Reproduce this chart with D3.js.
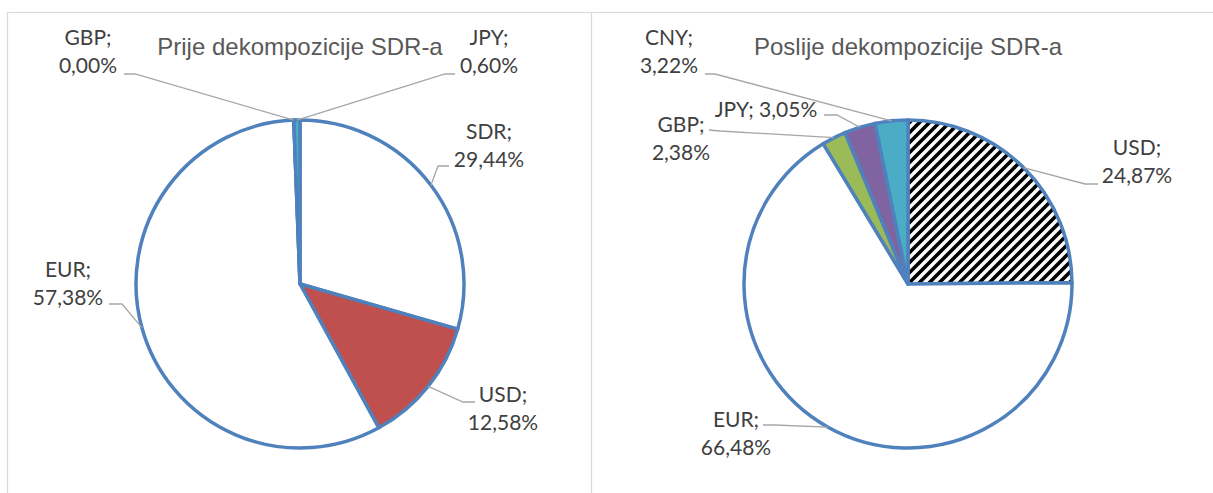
<!DOCTYPE html>
<html>
<head>
<meta charset="utf-8">
<script src="https://cdn.jsdelivr.net/npm/d3@7"></script>
<style>
  html, body { margin: 0; padding: 0; background: #fff; }
  #chart { width: 1213px; height: 493px; }
</style>
</head>
<body>
<div id="chart"></div>
<script>
// data (shares in %)
const chartTitles = ["Prije dekompozicije SDR-a", "Poslije dekompozicije SDR-a"];
const leftCurrencies = ["SDR", "USD", "EUR", "GBP", "JPY"];
const leftShares = [29.44, 12.58, 57.38, 0.00, 0.60];
const rightCurrencies = ["USD", "EUR", "GBP", "JPY", "CNY"];
const rightShares = [24.87, 66.48, 2.38, 3.05, 3.22];

const width = 1213, height = 493;
const radius = 164;

const svg = d3.select("#chart").append("svg")
    .attr("width", width)
    .attr("height", height)
    .attr("viewBox", `0 0 ${width} ${height}`);

// hatch for the USD slice after decomposition
const defs = svg.append("defs");
defs.append("pattern")
    .attr("id", "hatch")
    .attr("patternUnits", "userSpaceOnUse")
    .attr("width", 10)
    .attr("height", 10)
    .call(p => {
        p.append("rect").attr("width", 10).attr("height", 10).attr("fill", "#fff");
        p.append("path")
            .attr("d", "M-3,3 l6,-6 M0,10 l10,-10 M7,13 l6,-6")
            .attr("stroke", "#000")
            .attr("stroke-width", 3.6);
    });

// panel frames
svg.append("path")
    .attr("d", `M7.5,${height} V12.5 H${width} M591.5,12.5 V${height}`)
    .attr("fill", "none")
    .attr("stroke", "#d9d9d9")
    .attr("stroke-width", 1.2);

const locale = d3.formatLocale({ decimal: ",", thousands: ".", grouping: [3], currency: ["", ""] });
const fmt = v => locale.format(".2f")(v) + "%";

const pie = d3.pie().sort(null).value(d => d.value);
const arc = d3.arc().innerRadius(0).outerRadius(radius);
const edge = d3.arc().innerRadius(radius).outerRadius(radius);

// label placement: text centre x, first baseline, leader start + elbow
const charts = [
    {
        title: chartTitles[0], cx: 300, cy: 284,
        names: leftCurrencies, values: leftShares,
        fills: { SDR: "#fff", USD: "#c0504d", EUR: "#fff", GBP: "#9bbb59", JPY: "#4bacc6" },
        labels: {
            GBP: { x: 88, y: 45, lead: [[124, 74], [135, 74]] },
            JPY: { x: 489, y: 45, lead: [[455, 74], [445, 74]] },
            SDR: { x: 489, y: 139, lead: [[449, 166], [438, 166]] },
            USD: { x: 503, y: 402, lead: [[475, 402], [463, 402]] },
            EUR: { x: 68, y: 277, lead: [[109, 304], [122, 304]] }
        }
    },
    {
        title: chartTitles[1], cx: 908, cy: 284,
        names: rightCurrencies, values: rightShares,
        fills: { USD: "url(#hatch)", EUR: "#fff", GBP: "#9bbb59", JPY: "#8064a2", CNY: "#4bacc6" },
        labels: {
            CNY: { x: 669, y: 45, lead: [[705, 74], [715, 74]] },
            JPY: { x: 766, y: 117, oneLine: true, lead: [[824, 115], [837, 115]] },
            GBP: { x: 681, y: 132, lead: [[709, 130], [720, 131]] },
            USD: { x: 1137, y: 155, lead: [[1098, 184], [1085, 184]] },
            EUR: { x: 736, y: 427, lead: [[763, 425], [775, 425]] }
        }
    }
];

charts.forEach(c => {
    const data = c.names.map((n, i) => ({ name: n, value: c.values[i] }));
    const arcs = pie(data);

    svg.append("text")
        .attr("x", c.cx)
        .attr("y", 55)
        .attr("text-anchor", "middle")
        .attr("font-family", "'Liberation Sans', Arial, sans-serif")
        .attr("font-size", 24)
        .attr("fill", "#595959")
        .text(c.title);

    const g = svg.append("g").attr("transform", `translate(${c.cx},${c.cy})`);
    g.selectAll("path.slice")
        .data(arcs)
        .join("path")
        .attr("class", "slice")
        .attr("d", arc)
        .attr("fill", d => c.fills[d.data.name])
        .attr("stroke", "#4f81bd")
        .attr("stroke-width", 3.5)
        .attr("stroke-linejoin", "round");

    // leader lines
    svg.append("g").selectAll("path")
        .data(arcs)
        .join("path")
        .attr("d", d => {
            const lab = c.labels[d.data.name];
            const [ex, ey] = edge.centroid(d);
            const pts = lab.lead.concat([[c.cx + ex, c.cy + ey]]);
            return d3.line()(pts);
        })
        .attr("fill", "none")
        .attr("stroke", "#a6a6a6")
        .attr("stroke-width", 1.3);

    // data labels
    const lbl = svg.append("g").selectAll("text")
        .data(arcs)
        .join("text")
        .attr("text-anchor", "middle")
        .attr("font-family", "Lato, 'Open Sans', sans-serif")
        .attr("font-size", 21)
        .attr("fill", "#404040");
    lbl.each(function (d) {
        const lab = c.labels[d.data.name];
        const t = d3.select(this);
        if (lab.oneLine) {
            t.append("tspan").attr("x", lab.x).attr("y", lab.y)
                .text(`${d.data.name}; ${fmt(d.data.value)}`);
        } else {
            t.append("tspan").attr("x", lab.x).attr("y", lab.y).text(`${d.data.name};`);
            t.append("tspan").attr("x", lab.x).attr("y", lab.y + 28).text(fmt(d.data.value));
        }
    });
});
</script>
</body>
</html>
